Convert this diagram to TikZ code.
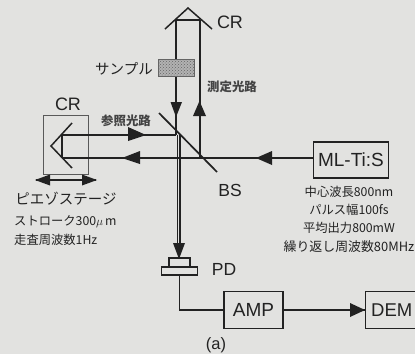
\documentclass[tikz,border=0pt]{standalone}
\usepackage{fontspec}
\setmainfont{Liberation Sans}
\newfontfamily\cjk{Noto Sans CJK JP}
\usetikzlibrary{patterns}
\definecolor{paper}{HTML}{E2E2E0}
\definecolor{ink}{HTML}{222222}
\tikzset{
 beam/.style={draw=ink,line width=1.5pt},
 thinbox/.style={draw=ink!75,line width=0.8pt},
 blockbox/.style={draw=ink,line width=1.4pt,inner sep=0pt,anchor=center},
 head/.style={fill=ink,draw=none},
 lab/.style={text=ink,inner sep=0pt,font=\fontsize{18}{18}\selectfont},
 big/.style={font=\fontsize{19}{19}\selectfont,text=ink},
 jp/.style={text=ink,inner sep=0pt,align=center},
 captext/.style={jp,font=\cjk\fontsize{12.3}{12}\selectfont},
 route/.style={jp,text=ink!85,font=\cjk\bfseries\fontsize{12.4}{12}\selectfont},
}
\begin{document}
\begin{tikzpicture}[x=1pt,y=-1pt]
\path[use as bounding box,fill=paper] (0,0) rectangle (415,354);
% coordinates
\coordinate (apex) at (188,8);
\coordinate (crl) at (165,29);
\coordinate (crr) at (212,29);
\coordinate (tl) at (176,20);
\coordinate (tr) at (200,20);
\coordinate (bl) at (176,135);
\coordinate (br) at (200,158);
\coordinate (refa) at (62,135);
\coordinate (refb) at (62,158);
\coordinate (bsa) at (159,113);
\coordinate (bsb) at (217,172);
\coordinate (dn) at (177.6,135);
\coordinate (dn2) at (180,135);
\coordinate (dne) at (177.6,250);
\coordinate (dne2) at (180,250);
\coordinate (lapex) at (51,146);
\coordinate (lu) at (72,123);
\coordinate (ld) at (72,168);
\coordinate (da) at (36,180);
\coordinate (db) at (96,180);
% top CR
\draw[beam,line join=miter] (crl) -- (apex) -- (crr);
\draw[beam] (tl) -- (tr);
\draw[beam] (tl) -- (bl);
\draw[beam] (tr) -- (br);
\path[head] (170.5,102) -- (182,102) -- (176,117) -- cycle;
\path[head] (193,116) -- (206,116) -- (199.5,101) -- cycle;
% sample, in front of the beam
\node[draw=ink!70,preaction={fill=gray!60},pattern=crosshatch dots,pattern color=ink!70,minimum width=36pt,minimum height=17pt,inner sep=0pt] (sample) at (176,67.5) {};
% left CR
\node[thinbox,minimum width=45pt,minimum height=59pt,inner sep=0pt] (crbox) at (66,144.5) {};
\draw[beam] (lu) -- (lapex) -- (ld);
\draw[beam] (refa) -- (refb);
\draw[beam] (refa) -- (bl);
\draw[beam] (refb) -- (br);
\path[head] (128,127) -- (146,135) -- (128,141) -- cycle;
\path[head] (122,158) -- (140,151) -- (140,164) -- cycle;
% BS
\draw[beam,line width=1.7pt] (bsa) -- (bsb);
% double down beam
\draw[beam] (dn) -- (dne);
\draw[beam] (dn2) -- (dne2);
\path[head] (173,243) -- (185,243) -- (179,259) -- cycle;
% double arrow
\draw[beam,line width=1.7pt] (da) -- (db);
\path[head] (35,180) -- (50,174.5) -- (50,185.5) -- cycle;
\path[head] (97,180) -- (82,174.5) -- (82,185.5) -- cycle;
% source
\node[blockbox,minimum width=75pt,minimum height=36pt,big] (ml) at (351,160) {ML-Ti:S};
\draw[beam] (br) -- (br -| ml.west);
\path[head] (256,158) -- (272,151) -- (272,165) -- cycle;
% PD
\node[blockbox,minimum width=21pt,minimum height=9pt] (pdt) at (179.5,262.5) {};
\node[blockbox,minimum width=36pt,minimum height=8pt] (pdb) at (179.5,271) {};
% AMP, DEM
\node[blockbox,minimum width=59pt,minimum height=37pt,big] (amp) at (253.5,310) {AMP};
\node[blockbox,minimum width=52pt,minimum height=37pt,big,anchor=west,font=\fontsize{18.5}{19}\selectfont] (dem) at (365,310) {DEM};
\draw[beam] (pdb.south) |- (amp.west);
\draw[beam] (amp.east) -- (dem.west);
\path[head] (350,303) -- (365,310) -- (350,317) -- cycle;
% labels
\node[lab] (crt) at (230,22) {CR};
\node[lab] (crl2) at (68,104) {CR};
\node[lab,font=\fontsize{17.5}{18}\selectfont] (bs) at (230,190) {BS};
\node[lab,font=\fontsize{17.5}{18}\selectfont] (pd) at (224,269) {PD};
\node[lab,font=\fontsize{16.5}{17}\selectfont] (a) at (216,345) {(a)};
\node[jp,font=\cjk\fontsize{14.5}{14}\selectfont] (s) at (124,69) {サンプル};
\node[route] (r) at (126,121) {参照光路};
\node[route] (m) at (232,87) {測定光路};
\node[jp,font=\cjk\fontsize{14.5}{14}\selectfont] (pz) at (66,199) {ピエゾステージ};
\node[captext,anchor=west] (st) at (14,222) {ストローク300$\mu\,$m};
\node[captext,anchor=west] (fr) at (14,240) {走査周波数1Hz};
\node[captext] (w1) at (349,192) {中心波長800nm};
\node[captext] (w2) at (349,210) {パルス幅100fs};
\node[captext] (w3) at (349,228) {平均出力800mW};
\node[captext,font=\cjk\fontsize{12.9}{12}\selectfont] (w4) at (349,247) {繰り返し周波数80MHz};
\end{tikzpicture}
\end{document}
